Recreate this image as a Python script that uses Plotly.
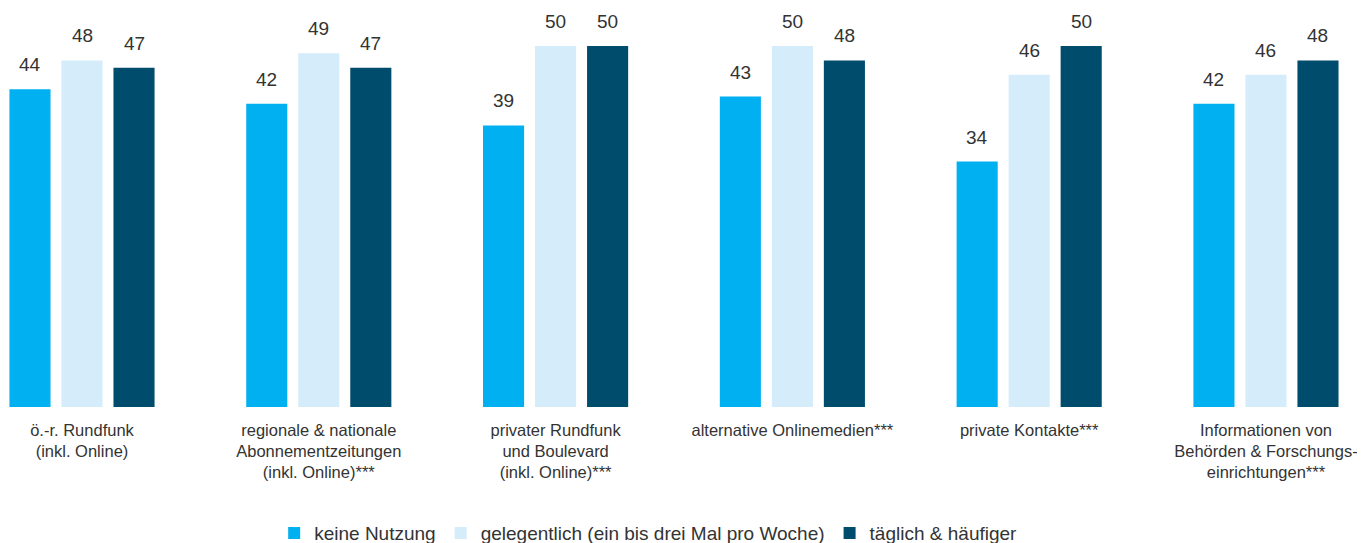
import plotly.graph_objects as go

categories = [
    "ö.-r. Rundfunk<br>(inkl. Online)",
    "regionale & nationale<br>Abonnementzeitungen<br>(inkl. Online)***",
    "privater Rundfunk<br>und Boulevard<br>(inkl. Online)***",
    "alternative Onlinemedien***",
    "private Kontakte***",
    "Informationen von<br>Behörden & Forschungs-<br>einrichtungen***",
]
series_names = [
    "keine Nutzung",
    "gelegentlich (ein bis drei Mal pro Woche)",
    "täglich & häufiger",
]
keine = [44, 42, 39, 43, 34, 42]
gelegentlich = [48, 49, 50, 50, 46, 46]
taeglich = [47, 47, 50, 48, 50, 48]

colors = ["#00b0f0", "#d5ecfa", "#004c6c"]
FONT = "Liberation Sans Narrow, Liberation Sans, Arial, sans-serif"

fig = go.Figure()
for name, vals, col in zip(series_names, [keine, gelegentlich, taeglich], colors):
    fig.add_trace(go.Bar(
        x=list(range(len(categories))), y=vals, name=name,
        marker=dict(color=col, line=dict(width=0)),
    ))

# value labels above bars
slot = 52  # px between bar centres within a group
for i, vals in enumerate([keine, gelegentlich, taeglich]):
    for j, v in enumerate(vals):
        fig.add_annotation(
            x=j, y=v, xref="x", yref="y", text=str(v), showarrow=False,
            xshift=(i - 1) * slot, yshift=12, yanchor="bottom",
            font=dict(family=FONT, size=19, color="#333333"),
        )

# page body has an 8px margin, so everything is placed 8px up/left
fig.update_layout(
    width=1365, height=543,
    barmode="group", bargap=0.341, bargroupgap=0.21,
    plot_bgcolor="white", paper_bgcolor="white",
    margin=dict(l=0, r=0, t=0, b=144, autoexpand=False),
    font=dict(family=FONT, size=18, color="#333333"),
    xaxis=dict(
        tickmode="array", tickvals=list(range(len(categories))), ticktext=categories,
        range=[-0.3125, 5.452], showgrid=False, showline=False, zeroline=False,
        ticks="", tickfont=dict(size=16.5, color="#333333"), automargin=False,
        ticklabeloverflow="allow", ticklabelstandoff=11,
    ),
    yaxis=dict(range=[0, 55.26], visible=False),
    legend=dict(
        orientation="h", x=0.469, xanchor="center", y=-0.316, yanchor="middle",
        font=dict(size=19, color="#333333"), traceorder="normal",
    ),
    showlegend=True,
)

fig.write_html("out.html")
